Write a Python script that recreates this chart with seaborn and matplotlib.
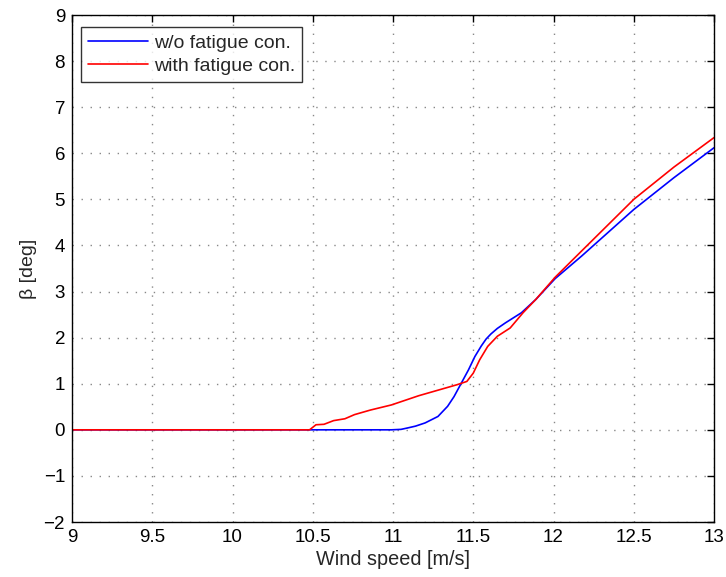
import matplotlib
matplotlib.use("Agg")
import matplotlib.pyplot as plt
import seaborn as sns
import pandas as pd

# Data
wind_wo = [9.0, 10.5, 10.99, 11.05, 11.09, 11.14, 11.2, 11.28, 11.34, 11.38, 11.425,
           11.47, 11.51, 11.55, 11.58, 11.61, 11.65, 11.70, 11.80, 11.89, 12.01, 12.175,
           12.5, 12.75, 13.0]
beta_wo = [0.0, 0.0, 0.0, 0.01, 0.04, 0.08, 0.15, 0.29, 0.51, 0.72, 1.01,
           1.30, 1.59, 1.82, 1.97, 2.08, 2.2, 2.32, 2.54, 2.83, 3.28, 3.77,
           4.78, 5.47, 6.12]

wind_with = [9.0, 10.48, 10.52, 10.57, 10.63, 10.70, 10.76, 10.86, 10.99, 11.16,
             11.2, 11.40, 11.46, 11.50, 11.54, 11.59, 11.65, 11.73, 11.81, 11.89,
             12.01, 12.175, 12.5, 12.75, 13.0]
beta_with = [0.0, 0.0, 0.11, 0.12, 0.20, 0.24, 0.33, 0.43, 0.54, 0.74,
             0.78, 0.98, 1.05, 1.23, 1.52, 1.81, 2.03, 2.21, 2.54, 2.83,
             3.31, 3.88, 5.0, 5.7, 6.34]

labels = ["w/o fatigue con.", "with fatigue con."]
colors = ["#0000ff", "#ff0000"]
x_ticks = [9, 9.5, 10, 10.5, 11, 11.5, 12, 12.5, 13]
x_tick_labels = ["9", "9.5", "10", "10.5", "11", "11.5", "12", "12.5", "13"]
y_ticks = list(range(-2, 10))

sns.set_style("white")
plt.rcParams['font.family'] = ['Liberation Sans', 'DejaVu Sans']

fig = plt.figure(figsize=(7.26, 5.77), dpi=100)
ax = fig.add_axes([0.0992, 0.0953, 0.8843, 0.8787])

df1 = pd.DataFrame({"x": wind_wo, "y": beta_wo})
df2 = pd.DataFrame({"x": wind_with, "y": beta_with})
sns.lineplot(data=df1, x="x", y="y", ax=ax, color=colors[0], lw=1.2, label=labels[0])
sns.lineplot(data=df2, x="x", y="y", ax=ax, color=colors[1], lw=1.2, label=labels[1])

ax.set_xlim(9, 13)
ax.set_ylim(-2, 9)
ax.set_xticks(x_ticks)
ax.set_xticklabels(x_tick_labels)
ax.set_yticks(y_ticks)
ax.set_yticklabels(["\u22122" if v == -2 else ("\u22121" if v == -1 else str(v)) for v in y_ticks])
ax.tick_params(direction="in", top=True, right=True, length=5, width=1,
               labelsize=13.5, colors="black", pad=5)
ax.grid(True, linestyle=(0, (1, 5.5)), color="#888888", lw=1)
for s in ax.spines.values():
    s.set_color("black")
    s.set_linewidth(1)

ax.set_xlabel("Wind speed [m/s]", fontsize=14.3, labelpad=3)
ax.set_ylabel("\u03b2 [deg]", fontsize=14, labelpad=5)

leg = ax.legend(loc="upper left", fontsize=14, frameon=True, fancybox=False,
                edgecolor="black", handlelength=3.1, handletextpad=0.3,
                borderpad=0.35, borderaxespad=0, labelspacing=0.3,
                bbox_to_anchor=(0.014, 0.976))
leg.get_frame().set_linewidth(1)

fig.savefig("out.png", dpi=100)
